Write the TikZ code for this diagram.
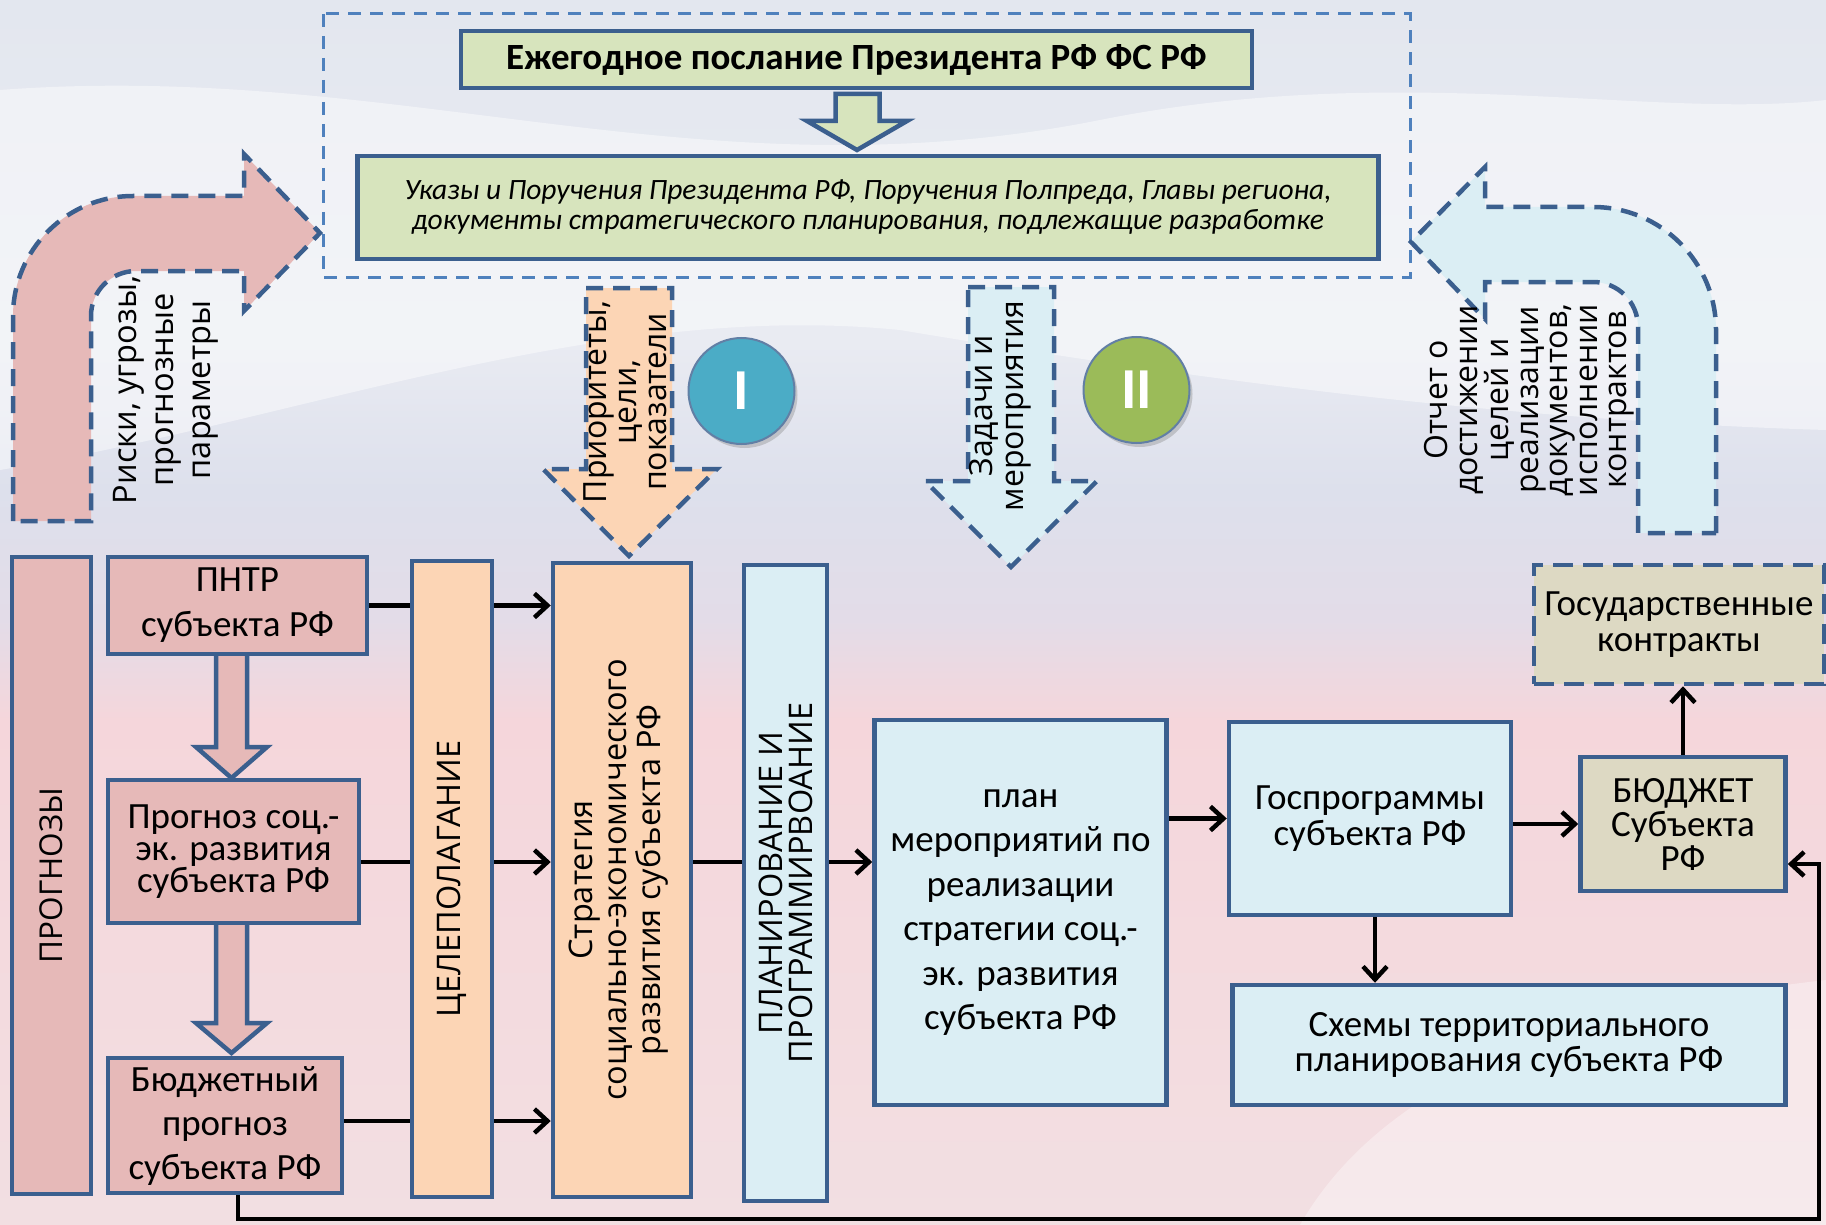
\documentclass[tikz,border=0pt]{standalone}
\usepackage{fontspec}
\setmainfont{Carlito}
\newfontfamily\osans{Open Sans}
\usetikzlibrary{arrows.meta,shadows}
\newcommand\myfs[2]{\fontsize{#1}{#2}\selectfont}
\definecolor{bord}{HTML}{3B5F8E}
\definecolor{dashb}{HTML}{4F81BD}
\definecolor{pinkf}{HTML}{E6B9B8}
\definecolor{peachf}{HTML}{FCD5B5}
\definecolor{bluef}{HTML}{DBEEF4}
\definecolor{greenf}{HTML}{D7E4BD}
\definecolor{tanf}{HTML}{DDD9C3}
\definecolor{circA}{HTML}{4BACC6}
\definecolor{circB}{HTML}{9BBB59}
\definecolor{bgA}{HTML}{F2DFE2}
\definecolor{bgB}{HTML}{F5D6DB}
\definecolor{bgC}{HTML}{E3DCE8}
\definecolor{bgD}{HTML}{DDE0EC}
\definecolor{bgE}{HTML}{E9EBF2}
\definecolor{bgF}{HTML}{E3E7EF}
\pgfdeclareverticalshading{bgsh}{100bp}{color(0bp)=(bgA); color(25bp)=(bgA); color(45.6bp)=(bgB); color(49.7bp)=(bgC); color(55bp)=(bgD); color(61bp)=(bgE); color(75bp)=(bgF); color(100bp)=(bgF)}
\pgfdeclarelayer{bg}
\pgfdeclarelayer{lines}
\pgfsetlayers{bg,lines,main}
\begin{document}
\begin{tikzpicture}[x=1pt,y=-1pt,
 box/.style={draw=bord,line width=4.5pt,inner sep=0pt,align=center},
 conn/.style={line width=4.5pt,-{Straight Barb[length=13pt,width=24pt]}},
 dsh/.style={draw=bord,line width=4.5pt,dash pattern=on 17pt off 10pt},
 rot/.style={rotate=90,align=center,inner sep=0pt},
 htxt/.style={font=\myfs{37}{45}},
 vtxt/.style={font=\osans\myfs{32.5}{36}},
 hollow/.style={draw=bord,line width=4.5pt,line join=miter},
 circ/.style={circle,draw=bord!80,line width=2pt,minimum size=106pt,inner sep=0pt,text=white,font=\bfseries\myfs{58}{58},drop shadow={opacity=0.35,shadow xshift=3pt,shadow yshift=-4pt}}
]
\useasboundingbox (0,0) rectangle (1826,1225);
\begin{pgfonlayer}{bg}
\shade[shading=bgsh] (0,0) rectangle (1826,1225);
\fill[white,opacity=0.45] (0,90) .. controls (400,60) and (700,200) .. (1100,120) .. controls (1400,60) and (1650,120) .. (1826,100) -- (1826,430) .. controls (1500,420) and (1200,380) .. (900,330) .. controls (600,300) and (300,420) .. (0,470) -- cycle;
\fill[white,opacity=0.35] (1300,1225) .. controls (1400,1050) and (1650,1000) .. (1826,980) -- (1826,1225) -- cycle;
\end{pgfonlayer}

% top container
\draw[dashb,line width=3pt,dash pattern=on 13pt off 9pt] (323,14) rectangle (1410,277);
\node[box,fill=greenf,minimum width=791pt,minimum height=57pt,font=\bfseries\myfs{37}{40}] (title) at (856.5,59.5) {Ежегодное послание Президента РФ ФС РФ};
\node[box,fill=greenf,minimum width=1021pt,minimum height=103pt,font=\itshape\myfs{29.5}{30}] (ukazy) at (868,207.5) {Указы и Поручения Президента РФ, Поручения Полпреда, Главы региона,\\документы стратегического планирования, подлежащие разработке};
\draw[hollow,fill=greenf] (835.5,94) -- (879.5,94) -- (879.5,121) -- (907,121) -- (857,150) -- (807,121) -- (835.5,121) -- cycle;

% curved arrows
\draw[dsh,fill=pinkf] (13,521) -- (13,316) .. controls (13,249.7) and (66.7,196) .. (133,196) -- (244,196) -- (244,154) -- (320,233) -- (244,311) -- (244,271) -- (136,271) .. controls (111.1,271) and (91,291.1) .. (91,316) -- (91,521) -- cycle;
\node[rot,vtxt,font=\osans\myfs{32.5}{37}] (risk) at (166,390) {Риски, угрозы,\\прогнозные\\параметры};
\draw[dsh,fill=bluef] (1716,533) -- (1716,330) .. controls (1716,262) and (1661,207) .. (1593,207) -- (1485,207) -- (1485,167) -- (1411,242) -- (1485,319) -- (1485,282) -- (1593,282) .. controls (1618,282) and (1638,302) .. (1638,327) -- (1638,533) -- cycle;
\node[rot,vtxt,font=\osans\myfs{32}{29.5}] (otchet) at (1529.5,400) {Отчет о\\достижении\\целей и\\реализации\\документов,\\исполнении\\контрактов};

% down arrows
\draw[dsh,fill=peachf] (586,288) -- (672,288) -- (672,469) -- (717,469) -- (629,556) -- (543,469) -- (586,469) -- cycle;
\node[rot,vtxt,font=\osans\myfs{32}{30}] (prior) at (625.5,402) {Приоритеты,\\цели,\\показатели};
\draw[dsh,fill=bluef] (968,287) -- (1054,287) -- (1054,481) -- (1097,481) -- (1011,567) -- (925,481) -- (968,481) -- cycle;
\node[rot,vtxt,font=\osans\myfs{32}{31}] (zadachi) at (1000.5,406) {Задачи и\\мероприятия};

\node[circ,fill=circA] (cI) at (741.5,391) {I};
\node[circ,fill=circB] (cII) at (1136.5,390) {II};

% lower boxes
\node[box,fill=pinkf,minimum width=79pt,minimum height=637pt] (progn) at (51.5,875.5) {};
\node[rot,vtxt,font=\osans\myfs{31.5}{36}] (progn-t) at (progn.center) {ПРОГНОЗЫ};
\node[box,fill=pinkf,minimum width=259pt,minimum height=97pt,htxt] (pntr) at (237.5,605.5) {ПНТР\\субъекта РФ};
\node[box,fill=pinkf,minimum width=251pt,minimum height=143pt,htxt,font=\myfs{37}{32}] (prog) at (233.5,851.5) {Прогноз соц.-\\эк. развития\\субъекта РФ};
\node[box,fill=pinkf,minimum width=234pt,minimum height=135pt,htxt,font=\myfs{37}{44}] (budg) at (225,1125.5) {Бюджетный\\прогноз\\субъекта РФ};
\node[box,fill=peachf,minimum width=80pt,minimum height=636pt] (celi) at (452,879) {};
\node[rot,vtxt] (celi-t) at (celi.center) {ЦЕЛЕПОЛАГАНИЕ};
\node[box,fill=peachf,minimum width=138pt,minimum height=634pt] (strat) at (622,880) {};
\node[rot,vtxt,font=\osans\myfs{32.5}{34}] (strat-t) at (619,880) {Стратегия\\социально-экономического\\развития субъекта РФ};
\node[box,fill=bluef,minimum width=83pt,minimum height=636pt] (plpr) at (785.5,883) {};
\node[rot,vtxt,font=\osans\myfs{32.5}{30}] (plpr-t) at (plpr.center) {ПЛАНИРОВАНИЕ И\\ПРОГРАММИРВОАНИЕ};
\node[box,fill=bluef,minimum width=292pt,minimum height=385pt,htxt,font=\myfs{37}{44.5}] (plan) at (1020.5,912.5) {план\\мероприятий по\\реализации\\стратегии соц.-\\эк. развития\\субъекта РФ};
\node[box,fill=bluef,minimum width=282pt,minimum height=193pt,htxt,font=\myfs{37}{36.5}] (gosp) at (1370,818.5) {Госпрограммы\\субъекта РФ};
\node[box,fill=tanf,minimum width=205pt,minimum height=134pt,htxt,font=\myfs{37}{34}] (budget) at (1683,824) {БЮДЖЕТ\\Субъекта\\РФ};
\node[box,fill=bluef,minimum width=553pt,minimum height=120pt,htxt,font=\myfs{37}{34.5}] (schemes) at (1509,1045) {Схемы территориального\\планирования субъекта РФ};
\node[box,fill=tanf,dash pattern=on 20pt off 10pt,minimum width=290pt,minimum height=119pt,htxt,font=\myfs{37}{36.5}] (contr) at (1679,624.5) {Государственные\\контракты};

\coordinate (r2) at (0,862);
\coordinate (r3) at (0,1121);
\coordinate (retc) at (1819,1219);
\begin{pgfonlayer}{lines}
\draw[hollow,fill=pinkf] (216,654) -- (216,747) -- (196,747) -- (231.5,778) -- (267,747) -- (247,747) -- (247,654);
\draw[hollow,fill=pinkf] (216,923) -- (216,1023) -- (196,1023) -- (231.5,1053) -- (267,1023) -- (247,1023) -- (247,923);
\draw[conn] (pntr.east) -- (strat.west |- pntr.east);
\draw[conn] (prog.east |- r2) -- (strat.west |- r2);
\draw[conn] (budg.east |- r3) -- (strat.west |- r3);
\draw[conn] (strat.east |- r2) -- (plan.west |- r2);
\draw[conn] (plan.east |- gosp.west) -- (gosp.west);
\draw[conn] (gosp.east |- budget.west) -- (budget.west);
\draw[conn] ([xshift=5pt]gosp.south) -- ([xshift=5pt]gosp.south |- schemes.north);
\draw[conn] (budget.north) -- (budget.north |- contr.south);
\draw[conn] ([xshift=13pt]budg.south) |- (retc) |- ([yshift=-40pt]budget.east);
\end{pgfonlayer}
\end{tikzpicture}
\end{document}
